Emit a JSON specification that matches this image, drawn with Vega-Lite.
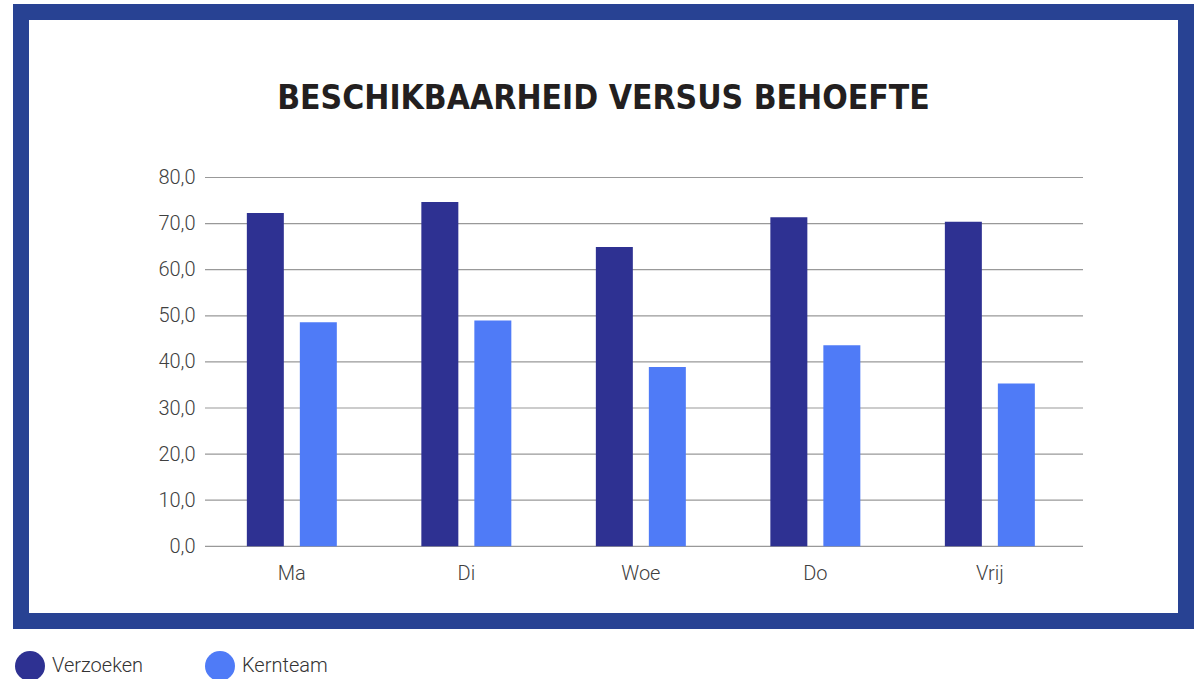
{
  "$schema": "https://vega.github.io/schema/vega-lite/v6.json",
  "width": 1165,
  "height": 609,
  "autosize": {"type": "none"},
  "padding": {"left": 21, "top": 12, "right": 10, "bottom": 58},
  "background": "white",
  "title": {
    "text": "BESCHIKBAARHEID VERSUS BEHOEFTE",
    "font": "'DejaVu Sans Condensed', 'Liberation Sans Narrow', Roboto, sans-serif",
    "fontSize": 33.4,
    "fontWeight": "bold",
    "color": "#231F20",
    "anchor": "middle",
    "offset": -104
  },
  "config": {
    "view": {"stroke": "#284293", "strokeWidth": 16, "fill": "white"},
    "font": "Roboto",
    "legend": {
      "orient": "none",
      "legendX": -6,
      "legendY": 639,
      "direction": "horizontal",
      "symbolType": "circle",
      "symbolSize": 900,
      "symbolStrokeWidth": 0,
      "labelFont": "Roboto",
      "labelFontSize": 20,
      "labelFontWeight": 300,
      "labelColor": "#333333",
      "labelOffset": 7,
      "columnPadding": 61,
      "title": null
    }
  },
  "datasets": {
    "bars": [
      {"day": "Ma", "series": "Verzoeken", "value": 72.3},
      {"day": "Ma", "series": "Kernteam", "value": 48.6},
      {"day": "Di", "series": "Verzoeken", "value": 74.7},
      {"day": "Di", "series": "Kernteam", "value": 49.0},
      {"day": "Woe", "series": "Verzoeken", "value": 64.9},
      {"day": "Woe", "series": "Kernteam", "value": 38.9},
      {"day": "Do", "series": "Verzoeken", "value": 71.4},
      {"day": "Do", "series": "Kernteam", "value": 43.6},
      {"day": "Vrij", "series": "Verzoeken", "value": 70.4},
      {"day": "Vrij", "series": "Kernteam", "value": 35.3}
    ],
    "grid": [
      {"v": 0}, {"v": 10}, {"v": 20}, {"v": 30}, {"v": 40},
      {"v": 50}, {"v": 60}, {"v": 70}, {"v": 80}
    ]
  },
  "layer": [
    {
      "data": {"name": "grid"},
      "mark": {"type": "rule", "color": "#999999", "strokeWidth": 1.2},
      "encoding": {
        "y": {
          "field": "v",
          "type": "quantitative",
          "scale": {"domain": [-16.2, 115.9], "nice": false, "zero": false},
          "axis": {
            "orient": "left",
            "offset": -184,
            "domain": false,
            "ticks": false,
            "grid": false,
            "values": [0, 10, 20, 30, 40, 50, 60, 70, 80],
            "labelExpr": "replace(format(datum.value, '.1f'), '.', ',')",
            "labelFont": "Roboto",
            "labelFontWeight": 300,
            "labelFontSize": 20,
            "labelColor": "#404040",
            "labelPadding": 10,
            "title": null
          }
        },
        "x": {
          "datum": 0,
          "type": "quantitative",
          "scale": {"domain": [-0.20957, 1.11731], "nice": false, "zero": false},
          "axis": null
        },
        "x2": {"datum": 1}
      }
    },
    {
      "data": {"name": "bars"},
      "mark": {"type": "bar"},
      "encoding": {
        "x": {
          "field": "day",
          "type": "nominal",
          "sort": ["Ma", "Di", "Woe", "Do", "Vrij"],
          "scale": {"paddingInner": 0.324, "paddingOuter": 1, "align": 0.607},
          "axis": {
            "orient": "bottom",
            "offset": -73,
            "domain": false,
            "ticks": false,
            "grid": false,
            "labelAngle": 0,
            "labelPadding": 15,
            "labelFont": "Roboto",
            "labelFontSize": 20,
            "labelFontWeight": 300,
            "labelColor": "#404040",
            "title": null
          }
        },
        "xOffset": {
          "field": "series",
          "type": "nominal",
          "sort": ["Verzoeken", "Kernteam"],
          "scale": {"paddingInner": 0.302, "paddingOuter": 0.264}
        },
        "y": {
          "field": "value",
          "type": "quantitative",
          "scale": {"domain": [-16.2, 115.9], "nice": false, "zero": false},
          "axis": {
            "orient": "left",
            "offset": -184,
            "domain": false,
            "ticks": false,
            "grid": false,
            "values": [0, 10, 20, 30, 40, 50, 60, 70, 80],
            "labelExpr": "replace(format(datum.value, '.1f'), '.', ',')",
            "labelFont": "Roboto",
            "labelFontWeight": 300,
            "labelFontSize": 20,
            "labelColor": "#404040",
            "labelPadding": 10,
            "title": null
          }
        },
        "y2": {"datum": 0},
        "color": {
          "field": "series",
          "type": "nominal",
          "sort": ["Verzoeken", "Kernteam"],
          "scale": {"domain": ["Verzoeken", "Kernteam"], "range": ["#2E3192", "#4F7BF7"]}
        }
      }
    }
  ],
  "resolve": {"scale": {"x": "independent"}, "axis": {"x": "independent"}}
}
